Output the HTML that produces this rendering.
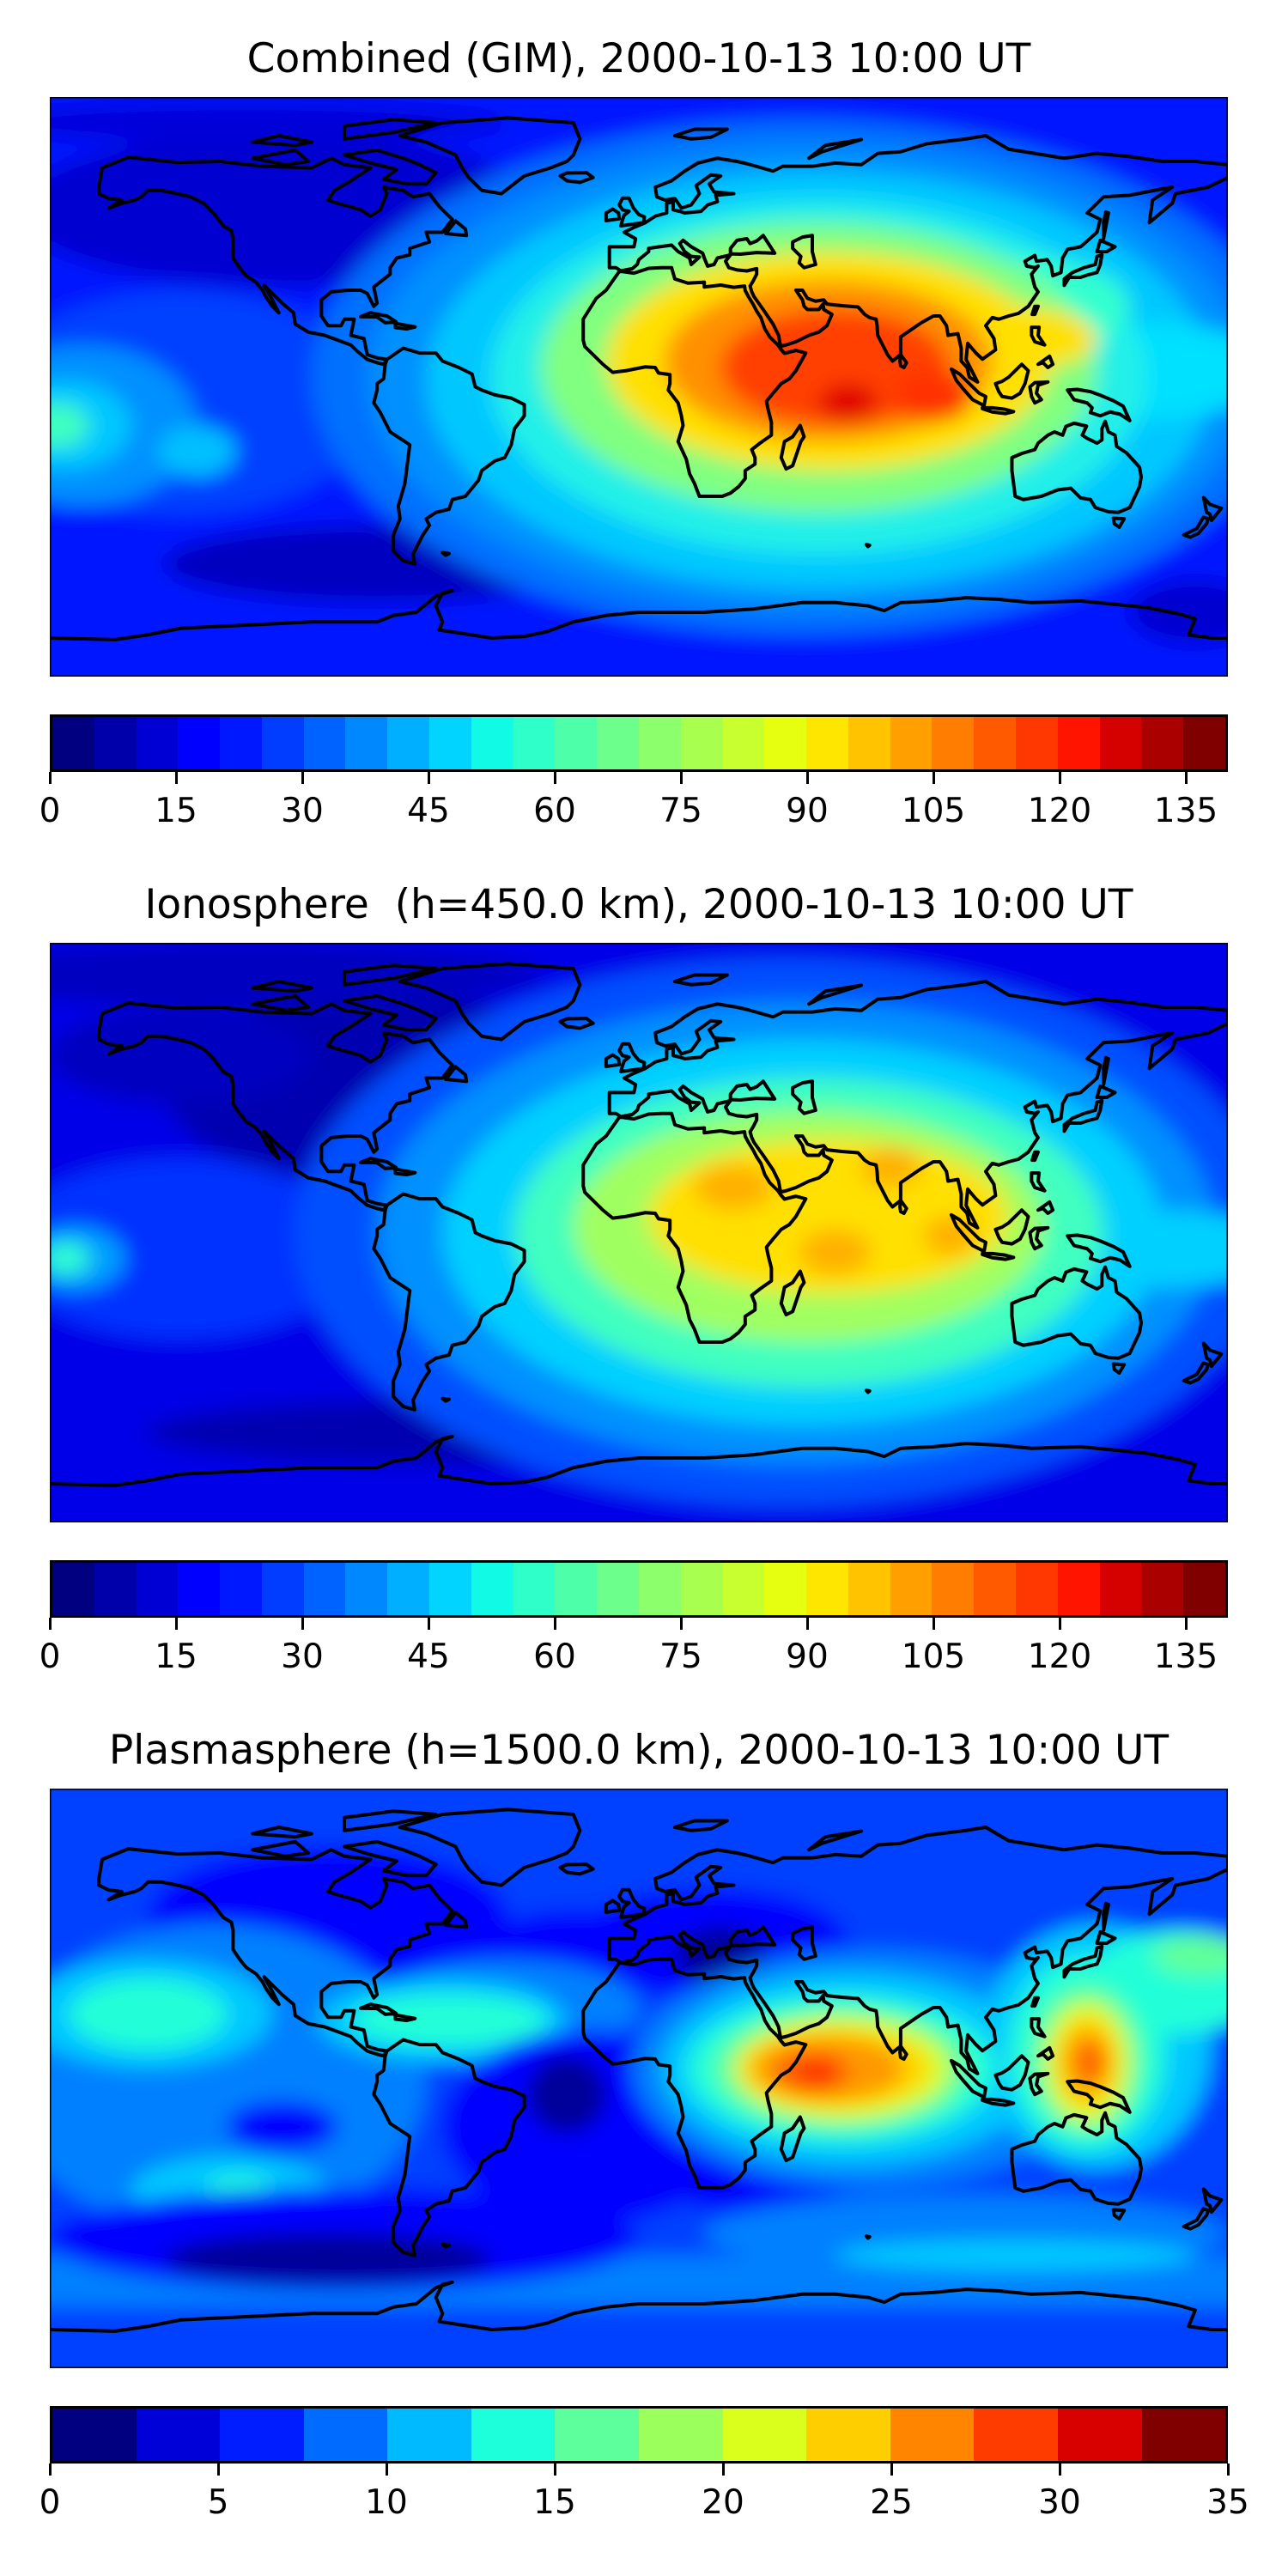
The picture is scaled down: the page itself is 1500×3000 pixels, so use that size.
<!DOCTYPE html>
<html><head><meta charset="utf-8">
<style>
html,body{margin:0;padding:0;background:#fff;width:1500px;height:3000px;overflow:hidden}
.t{position:absolute;left:0;width:1488px;text-align:center;font-family:"DejaVu Sans","Liberation Sans",sans-serif;font-size:47px;color:#000;line-height:1}
.map{position:absolute;left:58px;width:1372px;height:675px}
.cb{position:absolute;left:58px;width:1372px;height:67px;display:flex;box-sizing:border-box;border:3px solid #000}
.cb div{flex:1}
.tk{position:absolute;width:3px;height:14px;background:#000}
.tl{position:absolute;width:100px;margin-left:-50px;text-align:center;font-family:"DejaVu Sans","Liberation Sans",sans-serif;font-size:39px;line-height:1}
</style></head><body>
<svg width="0" height="0" style="position:absolute">
<defs>
<filter id="bl" x="-10%" y="-10%" width="120%" height="120%"><feGaussianBlur stdDeviation="3.2"/></filter>
<g id="coast" fill="none" stroke="#000" stroke-width="4" stroke-linejoin="round">
<path vector-effect="non-scaling-stroke" d="M-165,-62 L-164,-68 -156,-71.3 -141,-69.7 -128,-70 -115,-68.5 -100,-68 -94,-71 -90,-69 -82,-68 -85,-66 -88,-64 -93,-61 -95,-58 -92,-57 -85,-55 -82,-53 -79,-55 -77,-60 -78,-62 -72,-61 -69,-59 -64,-60 -61,-56 -57,-52 -60,-48 -65,-48 -64,-45 -70,-43 -70,-41 -74,-40 -76,-37 -76,-35 -81,-31 -80,-26 -81,-25 -83,-29 -85,-30 -89,-30 -94,-29.5 -97,-27 -97,-22 -95,-19 -91,-19 -90,-21 -87,-21 -88,-16 -84,-15 -83,-10 -80,-9 -77,-8.5 -78,-7 -80,-7.5 -83,-8.5 -86,-11 -88,-13 -92,-14.5 -96,-16 -101,-17 -105,-19.5 -105.5,-23 -109,-26 -112,-29 -114.5,-31.5 -112,-27 -110,-23 -112,-25 -114,-28 -115,-30 -117,-32.5 -120,-34.5 -122,-37 -124,-40 -124,-46 -124.5,-48.5 -127,-50 -130,-54 -133,-57 -137,-59 -141,-60 -146,-61 -150,-61 -152,-59 -154,-58 -158,-57 -162,-55.5 -158,-58 -162,-58.5 -165,-60 Z"/>
<path vector-effect="non-scaling-stroke" d="M-77,-8.5 L-72,-12 -67,-10.5 -62,-10.5 -60,-8 -55,-6 -51,-4 -50,0 -48,1 -44,2.5 -39,3.5 -35,5.5 -35,9 -38,13 -39,18 -41,22 -44,23 -48,26 -49,29 -53,34 -57,35 -58,38 -62,39 -65,41 -64,43 -66,46 -68,50 -69,52 -68.5,55 -72,54 -75,51 -75,46 -73,41 -73.5,37 -71.5,30 -70,18 -76,14 -79,8 -81,5 -80,1 -80,-1 -78,-2.5 -77.5,-7 Z"/>
<path vector-effect="non-scaling-stroke" d="M-73,-78 L-60,-82 -40,-83.5 -20,-82 -18,-77 -20,-72 -22,-70 -27,-68 -35,-65.5 -42,-60 -48,-61 -52,-65 -54,-68 -56,-72 -65,-76 Z"/>
<path vector-effect="non-scaling-stroke" d="M-9,-43.5 L-1.5,-43.5 -1,-46 -4.5,-48 -1.5,-49.5 2,-51 5,-53 8.5,-54 8.5,-57 10.5,-57.5 10.5,-55 12.5,-54.5 14,-54 19,-54.5 21,-56.5 24,-57.5 23.5,-59.5 29,-60 23,-60.5 21.5,-63 25,-65.5 22,-65.8 17.5,-62.5 18.5,-60 16,-56.5 13,-55.5 11,-58.5 8,-58 5.5,-59 5,-62 10,-64 14,-67 18,-69.5 24,-71 30,-70 33,-69.3 41,-67 44,-68.5 53,-68.5 60,-69.5 68,-69 73,-72.5 80,-73 88,-75.5 100,-77 106,-78 113,-73.8 130,-71 140,-72.5 150,-71.5 160,-70 170,-70 180,-69 180,-65 174,-62 164,-60 163,-57 156,-51 157,-58 163,-62 160,-61.5 150,-59.5 142,-59 137,-54 141,-52 140,-48 135,-43.5 131,-42.7 129.5,-40 129,-35.5 126.5,-34.5 126,-37.5 124.8,-39.5 121.5,-39 121,-40.8 118,-39 118.5,-37.5 121,-37 122,-37.5 120,-35 121,-31 122,-29.5 121,-28 119,-25 116,-22.8 113,-22 110,-21 108,-21.5 106,-19 108.5,-15 109,-11.5 105,-8.6 103,-10.5 100.5,-13.5 100,-8.5 103.5,-1.5 101,-3 100.3,-6 98.5,-8 98.5,-12 97.5,-16.5 94.5,-16 94,-19 92,-22 90,-22 86.5,-20 85,-19 80,-15.5 80,-10 77.5,-8 76,-10 73,-16 72.8,-19 72.5,-21 70.5,-21.5 69,-22.5 67,-24.8 62,-25.2 57.5,-25.7 56.5,-27 54,-26.6 51.5,-27.5 50,-30 48,-30 50,-27 50.5,-25 51.5,-24 55,-24 56.3,-25.7 56.5,-24 59,-22.5 57.5,-19 55,-17 52,-16 48,-14 45,-13 43.3,-12.6 42.7,-16 41,-19.5 38,-24 35.2,-28 34.5,-29.5 34,-31.3 35,-33 36,-35 36,-36.7 33,-36 30,-36.3 27.5,-37 26.5,-39 28,-41 26.5,-40.6 24,-40 23,-38 21,-37.5 20,-40 19.5,-41.5 16,-43.5 13.5,-45.5 12.5,-44.5 14,-42 16,-40.5 18.5,-40.3 16,-38 15.5,-40 12,-42 10,-44 7,-43.6 3,-43 3,-42 0,-39.5 -0.5,-38 -2,-36.7 -5.5,-36 -7,-37 -9,-37 -9,-39 -9,-43.5 Z"/>
<path vector-effect="non-scaling-stroke" d="M28,-41.3 L28,-43 30,-45.5 33,-46 34,-44.5 36,-45.3 38,-47 41.5,-41.5 36,-41.7 31,-41.2 Z M47,-45 L50,-46.5 53,-47 53,-42 54,-38 50.5,-37 49,-38.5 49.5,-40.5 47,-43 Z"/>
<path vector-effect="non-scaling-stroke" d="M-6,-35.8 L-10,-30 -13,-27.5 -17,-21 -17,-14.5 -16.5,-12.5 -13,-9 -11,-7 -8,-4.5 -4,-5 2,-6.2 5,-6 6,-4.3 9.5,-3.8 9.5,-1 9,1 12,5 13,9 13.5,12 12,17 14.5,22.5 15.5,27 17,30 18.5,34 22,34 25.5,34 28,33 30.5,31 32.5,28.5 32.5,26 35.5,24 35.5,22 34.5,19.5 37,17.5 40.5,15 40.5,11 39.5,7 39,4.5 41,2 43.5,-1 46,-2.5 48,-5 51,-10.5 48,-11.3 44.5,-10.4 43.3,-11.8 42.5,-13 40,-15.5 38.5,-18 37.3,-21.5 36,-23.5 35,-25.5 33.5,-28 32.5,-29.9 32.3,-31.3 29,-30.9 25,-31.6 20,-31 20,-32.5 15,-32.2 11,-33.5 10,-37 7,-37 3,-36.8 -1.5,-35.3 -5,-35.8 Z"/>
<path vector-effect="non-scaling-stroke" d="M49.3,12 L50.5,15.5 49.5,17 47,24.5 45,25.5 43.5,22 44.5,17 47,15.5 Z"/>
<path vector-effect="non-scaling-stroke" d="M114,22 L114,26 115,34 117.5,35 123,34 128,32 132,31.5 135,34.5 138,35 139.5,37.5 143.5,38.8 146.5,39 150,37.5 153,31 153.5,28 153,25 150.8,22.5 149,20.5 146,18.5 145.5,15 143.5,14 142.5,10.7 141.5,13 141.5,16.5 140,17.5 137,16 135.5,15 136.8,12.2 133,11.3 130.5,12.3 129.5,15 127,14 125,15 122,17.5 121,19.5 117,20.7 Z"/>
<path vector-effect="non-scaling-stroke" d="M-180,78 L-160,78.5 -150,77 -140,75 -120,74 -100,73 -80,73 -75,71 -68,70 -62,65 -57,63.3 -60,64 -62,68 -60,73 -61,75.5 -45,78 -35,77.5 -28,76 -20,73 -10,71 0,70 20,70 35,69 50,67 60,67 70,68 75,69.5 80,67 90,66.5 100,65.5 110,66 120,67 135,66.5 145,67.5 155,68.5 165,70.5 170,72 168,77 175,78 180,78"/>
<path vector-effect="non-scaling-stroke" d="M-5.5,-50 L1.5,-51 1.7,-52.8 0,-53.5 -1.7,-55.6 -3,-58.6 -5,-58.6 -6,-56.5 -5,-55 -3,-54.5 -4.5,-53.3 -5,-51.8 Z M-6,-52.2 L-6.2,-54 -8,-55.2 -10,-54 -10,-51.6 Z M-22,-64 L-24,-65.5 -22,-66.4 -16,-66.5 -14,-65 -18,-63.5 Z M130,-31.5 L131.5,-34 135,-34 137,-34.7 140,-35.5 141,-38 141.5,-41 140,-40.5 139.5,-38 136,-37 132.5,-35.5 130,-33.5 Z M140,-42 L141,-45.5 145.5,-43.5 143,-42 Z M109,-1 L110,1.5 111,3 114,3.5 116.5,2 118,-1 119,-5 117,-7 115,-5 113,-3 111,-1.7 Z M95.5,-5.5 L98,-4 104,2 106,3 105.5,5.8 102,4 99,0.5 97,-2 Z M105,6.5 L108,6.5 112,7 114.5,7.7 112,8.3 108,7.8 105,6.8 Z M131,1 L134,0.8 138,1.5 141,2.6 145,4.3 148,6 150,10.5 147,8.5 144,7.8 141,9 138,8 138.5,6.5 137,5 133,4 132,2.5 Z M120,-18.5 L122.3,-18.5 122,-16 124,-13 121,-14 120,-16 Z M122,-7 L125.5,-9.5 126.5,-7 125,-6 123.5,-7.5 Z M119.5,0 L121,-1.3 125,-1.5 122,-0.5 121.5,2 123,4 121,5 120,3 Z M120.2,-22.5 L121,-25 122,-25 121,-22.5 Z M80,-10 L81.8,-7.5 81,-6 80,-6.5 79.8,-8 Z M172.6,34.4 L174.5,36.5 178,37.7 177,39 175,41.5 174.5,39.5 173.5,39 Z M174,41 L172.5,40.5 170.5,44 166.5,46 168.5,46.7 171,45.5 173.5,42.5 Z M-85,-21.8 L-82,-23 -77,-22 -74.2,-20.2 -77.5,-19.9 -80,-21.7 Z M-74.4,-19.7 L-68.4,-18.6 -71,-18 -74.4,-18.4 Z M-80,-73.5 L-72,-71 -67,-69 -62,-66.5 -65,-63 -71,-63 -78,-64.5 -74,-67.5 -82,-69.5 -90,-72 Z M-118,-71 L-105,-73.5 -101,-70 -108,-69 Z M-90,-77 L-75,-79 -62,-82 -75,-83 -90,-81 Z M-100,-76 L-110,-78 -118,-76 -105,-75 Z M11,-78 L17,-80 27,-80 22,-77.5 16,-77 Z M52,-71 L57,-75 68,-76.8 56,-73 Z M-59,-47.6 L-56,-51.5 -53,-49 -52.7,-47 Z M145,40.8 L148.3,41 146.8,43.6 145.3,42.5 Z M142,-46 L143.5,-54 142.7,-54.3 142,-51 Z M-60,51.5 L-58,51.8 -59,52.3 Z M69.5,49 L70.5,49.2 70,49.6 Z"/>
</g>
</defs>
</svg>

<div class="t" style="top:45px">Combined (GIM), 2000-10-13 10:00 UT</div>
<svg class="map" style="top:113px" viewBox="-180 -90 360 180" preserveAspectRatio="none">
<defs><clipPath id="c1"><rect x="-180" y="-90" width="360" height="180"/></clipPath></defs>
<g clip-path="url(#c1)"><g filter="url(#bl)">
<rect x="-190" y="-100" width="380" height="200" fill="#0018ff"/>
<ellipse cx="-110" cy="-55" rx="80" ry="24" fill="#0000d0"/>
<ellipse cx="-80" cy="55" rx="65" ry="12" fill="#0000c0"/>
<ellipse cx="-120" cy="-82" rx="80" ry="6" fill="#0000d8"/>
<ellipse cx="170" cy="70" rx="20" ry="10" fill="#0000d0"/>
<ellipse cx="-140" cy="5" rx="60" ry="35" fill="#0040ff"/>
<ellipse cx="-170" cy="12" rx="35" ry="25" fill="#0090ff"/>
<ellipse cx="-175" cy="12" rx="20" ry="14" fill="#00c8ff"/>
<ellipse cx="-178" cy="12" rx="10" ry="7" fill="#40ffc0"/>
<ellipse cx="182" cy="-5" rx="15" ry="12" fill="#00c8ff"/>
<ellipse cx="-135" cy="20" rx="12" ry="8" fill="#00c0ff"/>
<ellipse cx="50" cy="-3" rx="150" ry="80" fill="#0070ff"/>
<ellipse cx="52" cy="-3" rx="135" ry="72" fill="#0090ff"/>
<ellipse cx="55" cy="-2" rx="120" ry="65" fill="#00c8ff"/>
<ellipse cx="75" cy="40" rx="40" ry="18" fill="#00c8ff"/>
<ellipse cx="155" cy="-5" rx="40" ry="15" fill="#00e0ff"/>
<ellipse cx="55" cy="-3" rx="100" ry="55" fill="#20f0e8"/>
<ellipse cx="120" cy="-25" rx="30" ry="15" fill="#30ffd0"/>
<ellipse cx="55" cy="-6" rx="85" ry="45" fill="#80ff80"/>
<ellipse cx="58" cy="-8" rx="68" ry="34" fill="#ffe000"/>
<ellipse cx="115" cy="-15" rx="25" ry="10" fill="#ffe000"/>
<ellipse cx="58" cy="-8" rx="50" ry="25" fill="#ff9000"/>
<ellipse cx="60" cy="-6" rx="35" ry="18" fill="#ff4000"/>
<ellipse cx="90" cy="3" rx="12" ry="8" fill="#ff3000"/>
<ellipse cx="64" cy="5" rx="9" ry="6" fill="#e00000"/>
</g></g>
<use href="#coast"/>
<rect x="-180" y="-90" width="360" height="180" fill="none" stroke="#000" stroke-width="3" vector-effect="non-scaling-stroke"/>
</svg>
<div class="cb" id="cb1" style="top:832px"></div>

<div class="t" style="top:1030px">Ionosphere&nbsp; (h=450.0 km), 2000-10-13 10:00 UT</div>
<svg class="map" style="top:1098px" viewBox="-180 -90 360 180" preserveAspectRatio="none">
<g clip-path="url(#c1)"><g filter="url(#bl)">
<rect x="-190" y="-100" width="380" height="200" fill="#0000e8"/>
<ellipse cx="-80" cy="-45" rx="65" ry="30" fill="#0000b0"/>
<ellipse cx="-120" cy="-80" rx="90" ry="10" fill="#0000c0"/>
<ellipse cx="-60" cy="62" rx="90" ry="10" fill="#0000b0"/>
<ellipse cx="-140" cy="-55" rx="40" ry="15" fill="#0000c0"/>
<ellipse cx="-140" cy="5" rx="55" ry="28" fill="#0030ff"/>
<ellipse cx="-172" cy="8" rx="15" ry="10" fill="#00a0ff"/>
<ellipse cx="-175" cy="8" rx="7" ry="5" fill="#30ffd0"/>
<ellipse cx="180" cy="8" rx="10" ry="8" fill="#0080ff"/>
<ellipse cx="45" cy="0" rx="150" ry="85" fill="#0050ff"/>
<ellipse cx="48" cy="0" rx="128" ry="72" fill="#0090ff"/>
<ellipse cx="50" cy="0" rx="110" ry="60" fill="#00d0ff"/>
<ellipse cx="160" cy="5" rx="40" ry="12" fill="#00d0ff"/>
<ellipse cx="52" cy="0" rx="90" ry="48" fill="#40ffc0"/>
<ellipse cx="52" cy="-2" rx="72" ry="36" fill="#a0ff60"/>
<ellipse cx="58" cy="-5" rx="55" ry="24" fill="#ffe000"/>
<ellipse cx="29" cy="-14" rx="12" ry="7" fill="#ffb000"/>
<ellipse cx="60" cy="6" rx="11" ry="7" fill="#ffb000"/>
<ellipse cx="77" cy="-20" rx="9" ry="6" fill="#ffb000"/>
<ellipse cx="95" cy="1" rx="8" ry="6" fill="#ffb000"/>
</g></g>
<use href="#coast"/>
<rect x="-180" y="-90" width="360" height="180" fill="none" stroke="#000" stroke-width="3" vector-effect="non-scaling-stroke"/>
</svg>
<div class="cb" id="cb2" style="top:1817px"></div>

<div class="t" style="top:2015px">Plasmasphere (h=1500.0 km), 2000-10-13 10:00 UT</div>
<svg class="map" style="top:2083px" viewBox="-180 -90 360 180" preserveAspectRatio="none">
<g clip-path="url(#c1)"><g filter="url(#bl)">
<rect x="-190" y="-100" width="380" height="200" fill="#0040ff"/>
<rect x="-190" y="55" width="380" height="16" fill="#0080ff"/>
<ellipse cx="-95" cy="-50" rx="55" ry="22" fill="#0000ff"/>
<ellipse cx="-20" cy="-40" rx="30" ry="12" fill="#0000ff"/>
<ellipse cx="22" cy="-42" rx="42" ry="17" fill="#0000ff"/>
<ellipse cx="25" cy="-38" rx="14" ry="9" fill="#00009a"/>
<ellipse cx="-130" cy="0" rx="65" ry="48" fill="#0080ff"/>
<ellipse cx="-40" cy="-22" rx="40" ry="15" fill="#0080ff"/>
<ellipse cx="-150" cy="-20" rx="38" ry="17" fill="#00c8ff"/>
<ellipse cx="-60" cy="-18" rx="38" ry="13" fill="#00c8ff"/>
<ellipse cx="-125" cy="35" rx="30" ry="11" fill="#00c8ff"/>
<ellipse cx="-150" cy="-20" rx="24" ry="11" fill="#20ffd8"/>
<ellipse cx="-58" cy="-18" rx="30" ry="8" fill="#20ffd8"/>
<ellipse cx="-122" cy="34" rx="10" ry="4" fill="#20ffd8"/>
<ellipse cx="-109" cy="15" rx="17" ry="8" fill="#0000ff"/>
<ellipse cx="-15" cy="15" rx="45" ry="30" fill="#0000ff"/>
<ellipse cx="35" cy="30" rx="30" ry="12" fill="#0000ff"/>
<ellipse cx="-22" cy="5" rx="12" ry="12" fill="#00009a"/>
<ellipse cx="-90" cy="50" rx="90" ry="16" fill="#0000ff"/>
<ellipse cx="-95" cy="56" rx="50" ry="8" fill="#00009a"/>
<ellipse cx="100" cy="48" rx="80" ry="12" fill="#0080ff"/>
<ellipse cx="115" cy="55" rx="55" ry="5" fill="#00c8ff"/>
<ellipse cx="70" cy="-3" rx="72" ry="37" fill="#0080ff"/>
<ellipse cx="65" cy="-3" rx="58" ry="30" fill="#00c8ff"/>
<ellipse cx="140" cy="-10" rx="35" ry="38" fill="#00c8ff"/>
<ellipse cx="165" cy="-30" rx="28" ry="16" fill="#20ffd8"/>
<ellipse cx="172" cy="-38" rx="15" ry="6" fill="#60ff98"/>
<ellipse cx="62" cy="-3" rx="47" ry="23" fill="#20ffd8"/>
<ellipse cx="137" cy="-8" rx="24" ry="30" fill="#20ffd8"/>
<ellipse cx="62" cy="-3" rx="39" ry="19" fill="#60ff98"/>
<ellipse cx="137" cy="-6" rx="17" ry="23" fill="#60ff98"/>
<ellipse cx="62" cy="-3" rx="33" ry="16" fill="#d8ff20"/>
<ellipse cx="137" cy="-5" rx="13" ry="19" fill="#d8ff20"/>
<ellipse cx="60" cy="-3" rx="29" ry="13" fill="#ffd800"/>
<ellipse cx="137" cy="-5" rx="10" ry="15" fill="#ffd800"/>
<ellipse cx="58" cy="-3" rx="23" ry="10" fill="#ff9800"/>
<ellipse cx="137" cy="-5" rx="7" ry="10" fill="#ff9800"/>
<ellipse cx="53" cy="-2" rx="11" ry="6" fill="#ff5000"/>
<ellipse cx="138" cy="-5" rx="3.5" ry="6" fill="#ff5000"/>
<ellipse cx="55" cy="-2" rx="4" ry="3" fill="#ff1000"/>
</g></g>
<use href="#coast"/>
<rect x="-180" y="-90" width="360" height="180" fill="none" stroke="#000" stroke-width="3" vector-effect="non-scaling-stroke"/>
</svg>
<div class="cb" id="cb3" style="top:2802px"></div>

<div id="ticks"></div>
<script>
function itp(p,x){for(var i=1;i<p.length;i++){if(x<=p[i][0]){var a=p[i-1],b=p[i];return a[1]+(b[1]-a[1])*(x-a[0])/(b[0]-a[0]);}}return p[p.length-1][1];}
var R=[[0,0],[0.35,0],[0.66,1],[0.89,1],[1,0.5]],G=[[0,0],[0.125,0],[0.375,1],[0.64,1],[0.91,0],[1,0]],B=[[0,0.5],[0.11,1],[0.34,1],[0.65,0],[1,0]];
function jet(x){return 'rgb('+Math.round(255*itp(R,x))+','+Math.round(255*itp(G,x))+','+Math.round(255*itp(B,x))+')';}
function cb(id,n){var e=document.getElementById(id);for(var i=0;i<n;i++){var d=document.createElement('div');d.style.background=jet(i/(n-1));e.appendChild(d);}}
cb('cb1',28);cb('cb2',28);cb('cb3',14);
var T=document.getElementById('ticks');
function ticks(top,vals,max){vals.forEach(function(v){var x=58+1372*v/max;var k=document.createElement('div');k.className='tk';k.style.left=(x-1.5)+'px';k.style.top=(top+67)+'px';T.appendChild(k);var l=document.createElement('div');l.className='tl';l.style.left=x+'px';l.style.top=(top+93)+'px';l.textContent=v;T.appendChild(l);});}
ticks(832,[0,15,30,45,60,75,90,105,120,135],140);
ticks(1817,[0,15,30,45,60,75,90,105,120,135],140);
ticks(2802,[0,5,10,15,20,25,30,35],35);
</script>
</body></html>
